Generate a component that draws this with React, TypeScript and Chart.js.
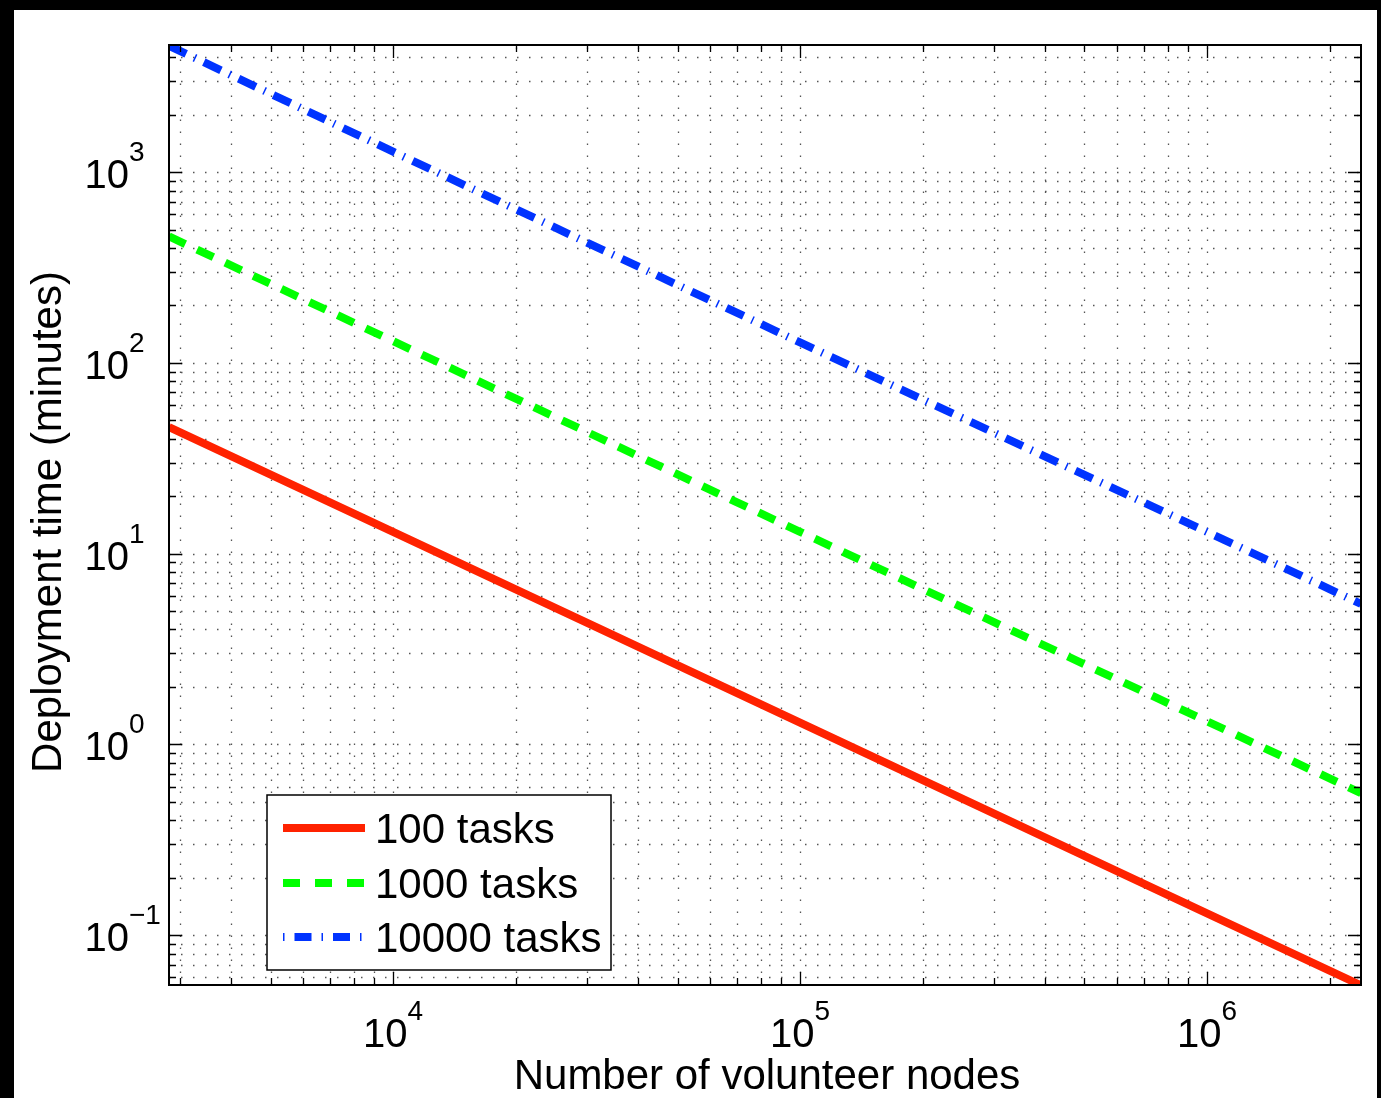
import React, { useEffect, useRef } from "react";
import { Chart, registerables } from "chart.js";

Chart.register(...registerables);

// Data (log-log)
const volunteerNodes = [2815, 10000, 100000, 1000000, 2390000];
const tasks100 = [46, 13, 1.3, 0.13, 0.0545];
const tasks1000 = [460, 130, 13, 1.32, 0.555];
const tasks10000 = [4600, 1280, 128, 13, 5.45];
const seriesLabels = ["100 tasks", "1000 tasks", "10000 tasks"];

const xTickExponents = [4, 5, 6];
const yTickExponents = [-1, 0, 1, 2, 3];
const xRange = [2815, 2390000];
const yRange = [0.0547, 4640];

const xTitle = "Number of volunteer nodes";
const yTitle = "Deployment time (minutes)";

const FONT = "'Liberation Sans', Arial, Helvetica, sans-serif";

function logTicks(min: number, max: number) {
  const out: { v: number; major: boolean }[] = [];
  const lo = Math.floor(Math.log10(min));
  const hi = Math.ceil(Math.log10(max));
  for (let e = lo; e <= hi; e++) {
    for (let k = 1; k <= 9; k++) {
      const v = k * Math.pow(10, e);
      if (v >= min * 0.9999 && v <= max * 1.0001) out.push({ v, major: k === 1 });
    }
  }
  return out;
}

const decorPlugin = {
  id: "decor",
  beforeDatasetsDraw(chart: any) {
    const { ctx, chartArea, scales } = chart;
    const { left, right, top, bottom } = chartArea;
    const x = scales.x;
    const y = scales.y;
    ctx.save();
    ctx.strokeStyle = "#555";
    ctx.lineWidth = 1.3;
    ctx.setLineDash([1.5, 10.5]);
    for (const t of logTicks(x.min, x.max)) {
      const px = Math.round(x.getPixelForValue(t.v)) + 0.5;
      ctx.beginPath();
      ctx.moveTo(px, bottom);
      ctx.lineTo(px, top);
      ctx.stroke();
    }
    for (const t of logTicks(y.min, y.max)) {
      const py = Math.round(y.getPixelForValue(t.v)) + 0.5;
      ctx.beginPath();
      ctx.moveTo(left, py);
      ctx.lineTo(right, py);
      ctx.stroke();
    }
    ctx.restore();
  },
  afterDatasetsDraw(chart: any) {
    const { ctx, chartArea, scales } = chart;
    const { left, right, top, bottom } = chartArea;
    const x = scales.x;
    const y = scales.y;
    ctx.save();
    ctx.setLineDash([]);
    ctx.strokeStyle = "#000";
    ctx.lineWidth = 1.3;
    // ticks
    for (const t of logTicks(x.min, x.max)) {
      const px = Math.round(x.getPixelForValue(t.v)) + 0.5;
      const len = t.major ? 13 : 7;
      ctx.beginPath();
      ctx.moveTo(px, bottom);
      ctx.lineTo(px, bottom - len);
      ctx.moveTo(px, top);
      ctx.lineTo(px, top + len);
      ctx.stroke();
    }
    for (const t of logTicks(y.min, y.max)) {
      const py = Math.round(y.getPixelForValue(t.v)) + 0.5;
      const len = t.major ? 13 : 7;
      ctx.beginPath();
      ctx.moveTo(left, py);
      ctx.lineTo(left + len, py);
      ctx.moveTo(right, py);
      ctx.lineTo(right - len, py);
      ctx.stroke();
    }
    // box
    ctx.lineWidth = 2;
    ctx.strokeRect(left, top, right - left, bottom - top);

    // tick labels
    ctx.fillStyle = "#000";
    ctx.textBaseline = "alphabetic";
    for (const e of xTickExponents) {
      const px = x.getPixelForValue(Math.pow(10, e));
      const expStr = e < 0 ? "\u2212" + Math.abs(e) : String(e);
      ctx.font = `40px ${FONT}`;
      const w1 = ctx.measureText("10").width;
      ctx.font = `28px ${FONT}`;
      const w2 = ctx.measureText(expStr).width;
      const start = px - (w1 + w2) / 2;
      ctx.textAlign = "left";
      ctx.font = `40px ${FONT}`;
      ctx.fillText("10", start, bottom + 62);
      ctx.font = `28px ${FONT}`;
      ctx.fillText(expStr, start + w1, bottom + 35);
    }
    for (const e of yTickExponents) {
      const py = y.getPixelForValue(Math.pow(10, e));
      const expStr = e < 0 ? "\u2212" + Math.abs(e) : String(e);
      ctx.font = `40px ${FONT}`;
      ctx.textAlign = "right";
      ctx.fillText("10", left - 40, py + 16);
      ctx.font = `28px ${FONT}`;
      ctx.textAlign = "left";
      ctx.fillText(expStr, left - 40, py - 11);
    }

    // axis titles
    ctx.font = `42px ${FONT}`;
    ctx.textAlign = "center";
    ctx.fillText(xTitle, 753, 1079);
    ctx.save();
    ctx.translate(47, 512);
    ctx.rotate(-Math.PI / 2);
    ctx.fillText(yTitle, 0, 0);
    ctx.restore();

    // legend
    const lx0 = 253, ly0 = 785, lx1 = 597, ly1 = 960;
    ctx.fillStyle = "#fff";
    ctx.fillRect(lx0, ly0, lx1 - lx0, ly1 - ly0);
    ctx.strokeStyle = "#000";
    ctx.lineWidth = 1.5;
    ctx.strokeRect(lx0, ly0, lx1 - lx0, ly1 - ly0);
    const rowsY = [818, 873, 927];
    const legendDash = [[], [17, 15], [1.5, 10, 17, 10]];
    chart.data.datasets.forEach((ds: any, i: number) => {
      const yy = rowsY[i];
      ctx.save();
      ctx.strokeStyle = ds.borderColor;
      ctx.lineWidth = ds.borderWidth;
      ctx.lineCap = "butt";
      ctx.setLineDash(legendDash[i]);
      ctx.beginPath();
      ctx.moveTo(269, yy);
      ctx.lineTo(351, yy);
      ctx.stroke();
      ctx.restore();
      ctx.fillStyle = "#000";
      ctx.font = `42px ${FONT}`;
      ctx.textAlign = "left";
      ctx.fillText(ds.label, 361, yy + 15);
    });
    ctx.restore();
  },
};

export default function App() {
  const ref = useRef<HTMLCanvasElement | null>(null);
  useEffect(() => {
    if (!ref.current) return;
    const mk = (vals: number[]) => volunteerNodes.map((x, i) => ({ x, y: vals[i] }));
    const chart = new Chart(ref.current, {
      type: "line",
      data: {
        datasets: [
          {
            label: seriesLabels[0],
            data: mk(tasks100),
            borderColor: "rgb(255,34,0)",
            borderWidth: 8,
            pointRadius: 0,
            tension: 0,
            clip: 0,
          },
          {
            label: seriesLabels[1],
            data: mk(tasks1000),
            borderColor: "rgb(0,255,0)",
            borderWidth: 8,
            borderDash: [18, 13],
            pointRadius: 0,
            tension: 0,
            clip: 0,
          },
          {
            label: seriesLabels[2],
            data: mk(tasks10000),
            borderColor: "rgb(0,51,255)",
            borderWidth: 8,
            borderDash: [19, 9, 1.5, 9],
            pointRadius: 0,
            tension: 0,
            clip: 0,
          },
        ],
      },
      options: {
        responsive: false,
        animation: false,
        devicePixelRatio: 1,
        layout: { padding: { left: 155, top: 35, right: 16, bottom: 113 } },
        plugins: { legend: { display: false }, tooltip: { enabled: false } },
        scales: {
          x: {
            type: "logarithmic",
            min: xRange[0],
            max: xRange[1],
            grid: { display: false },
            border: { display: false },
            ticks: { display: false },
            afterFit: (s: any) => { s.height = 0; },
          },
          y: {
            type: "logarithmic",
            min: yRange[0],
            max: yRange[1],
            grid: { display: false },
            border: { display: false },
            ticks: { display: false },
            afterFit: (s: any) => { s.width = 0; },
          },
        },
      } as any,
      plugins: [decorPlugin],
    });
    return () => chart.destroy();
  }, []);

  return (
    <div
      style={{
        background: "#000",
        width: 1381,
        height: 1098,
        boxSizing: "border-box",
        padding: "10px 4px 0 14px",
        overflow: "hidden",
      }}
    >
      <style>{`body{margin:0;}`}</style>
      <div style={{ width: 1363, height: 1088, background: "#fff" }}>
        <canvas ref={ref} width={1363} height={1088} style={{ display: "block" }} />
      </div>
    </div>
  );
}
